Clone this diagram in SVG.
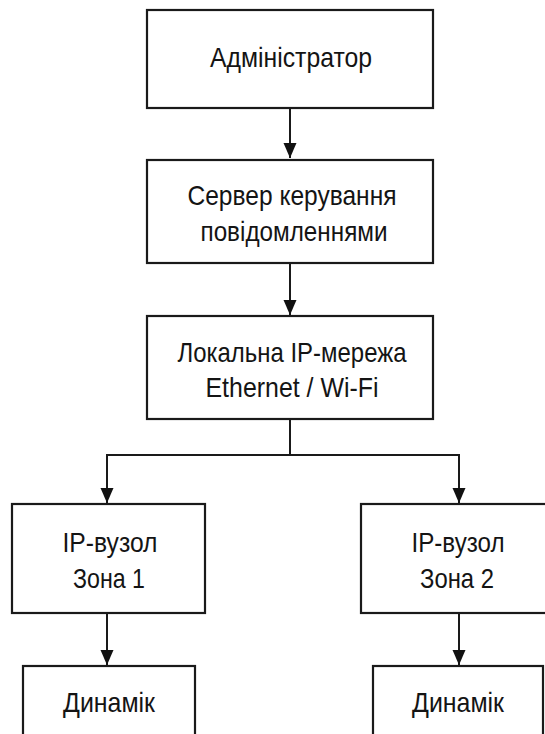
<svg xmlns="http://www.w3.org/2000/svg" width="545" height="734" viewBox="0 0 545 734">
<style>
.box{fill:#fff;stroke:#1a1a1a;stroke-width:2.2}
.t{font-family:"Liberation Sans",Arial,sans-serif;font-size:28px;fill:#141414;text-anchor:middle}
.c{fill:none;stroke:#1a1a1a;stroke-width:2}
</style>
<defs>
<marker id="ah" markerUnits="userSpaceOnUse" markerWidth="16" markerHeight="14" refX="15" refY="6.5" orient="auto">
<path d="M0,0 L15,6.5 L0,13 z" fill="#111"/>
</marker>
</defs>
<rect width="545" height="734" fill="#fff"/>
<g id="connectors">
<path class="c" d="M290,108 V158" marker-end="url(#ah)"/>
<path class="c" d="M290,263 V315" marker-end="url(#ah)"/>
<path class="c" d="M290,419 V455 M107,455 H459"/>
<path class="c" d="M107,454 V503" marker-end="url(#ah)"/>
<path class="c" d="M459,454 V503" marker-end="url(#ah)"/>
<path class="c" d="M107,613 V665" marker-end="url(#ah)"/>
<path class="c" d="M459,613 V665" marker-end="url(#ah)"/>
</g>
<g id="n1">
<rect class="box" x="147" y="10" width="286" height="98"/>
<text class="t" x="291" y="67" textLength="162" lengthAdjust="spacingAndGlyphs">Адміністратор</text>
</g>
<g id="n2">
<rect class="box" x="147" y="160" width="286" height="103"/>
<text class="t" x="292" y="205" textLength="209" lengthAdjust="spacingAndGlyphs">Сервер керування</text>
<text class="t" x="294" y="241" textLength="187" lengthAdjust="spacingAndGlyphs">повідомленнями</text>
</g>
<g id="n3">
<rect class="box" x="147" y="316" width="286" height="103"/>
<text class="t" x="292" y="362" textLength="229" lengthAdjust="spacingAndGlyphs">Локальна IP-мережа</text>
<text class="t" x="292" y="397" textLength="173" lengthAdjust="spacingAndGlyphs">Ethernet / Wi-Fi</text>
</g>
<g id="n4">
<rect class="box" x="12" y="504" width="193" height="109"/>
<text class="t" x="110" y="552" textLength="95" lengthAdjust="spacingAndGlyphs">IP-вузол</text>
<text class="t" x="109" y="588" textLength="72" lengthAdjust="spacingAndGlyphs">Зона 1</text>
</g>
<g id="n5">
<rect class="box" x="361" y="504" width="194" height="109"/>
<text class="t" x="458" y="552" textLength="93" lengthAdjust="spacingAndGlyphs">IP-вузол</text>
<text class="t" x="457" y="588" textLength="74" lengthAdjust="spacingAndGlyphs">Зона 2</text>
</g>
<g id="n6">
<rect class="box" x="23" y="666" width="172" height="80"/>
<text class="t" x="109" y="712" textLength="92" lengthAdjust="spacingAndGlyphs">Динамік</text>
</g>
<g id="n7">
<rect class="box" x="373" y="666" width="170" height="80"/>
<text class="t" x="458" y="712" textLength="92" lengthAdjust="spacingAndGlyphs">Динамік</text>
</g>
</svg>
